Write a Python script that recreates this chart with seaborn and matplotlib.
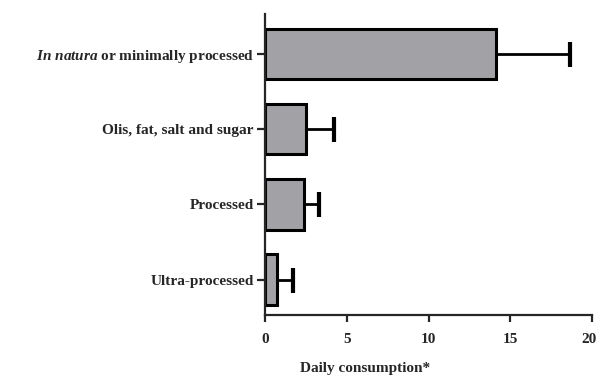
import matplotlib
matplotlib.use("Agg")
import matplotlib.pyplot as plt
import matplotlib.transforms as mtransforms
import seaborn as sns
import pandas as pd

# values
categories = [
    r"$\mathit{In\ natura}$ or minimally processed",
    "Olis, fat, salt and sugar",
    "Processed",
    "Ultra-processed",
]
means = [14.15, 2.53, 2.36, 0.71]
errors = [4.52, 1.71, 0.96, 0.98]
x_ticks = [0, 5, 10, 15, 20]

sns.set_style("ticks")
plt.rcParams["font.family"] = ["Liberation Serif", "DejaVu Serif"]
plt.rcParams["font.weight"] = "bold"
plt.rcParams["mathtext.fontset"] = "custom"
plt.rcParams["mathtext.it"] = "Liberation Serif:italic"
plt.rcParams["mathtext.rm"] = "Liberation Serif"

df = pd.DataFrame({"category": categories, "mean": means, "err": errors})

fig = plt.figure(figsize=(5.98, 3.77), dpi=100)
ax = fig.add_axes([265 / 598, 62 / 377, 327 / 598, 301 / 377])

sns.barplot(data=df, x="mean", y="category", orient="h", color="#a2a2a6",
            edgecolor="black", linewidth=2.2, width=0.67, errorbar=None,
            saturation=1, ax=ax)

# one-sided error bars: drop the lower caps
_, caps, _ = ax.errorbar(df["mean"], range(len(df)),
                         xerr=[[0] * len(df), df["err"]],
                         fmt="none", ecolor="black", elinewidth=2.0,
                         capsize=9, capthick=3, zorder=1)
caps[0].remove()

ax.set_xlim(0, 20)
ax.set_ylim(3.47, -0.53)
ax.set_xticks(x_ticks)
ax.set_xticklabels([str(t) for t in x_ticks], fontsize=11, fontweight="bold")
ax.tick_params(axis="x", length=5, width=1.6, pad=8)
ax.tick_params(axis="y", length=6, width=1.6, pad=2, labelsize=11)
for lbl in ax.get_yticklabels():
    lbl.set_fontweight("bold")

# keep the last x label inside the figure edge
last = ax.get_xticklabels()[-1]
last.set_transform(last.get_transform() +
                   mtransforms.ScaledTranslation(-3 / 100, 0, fig.dpi_scale_trans))

ax.set_ylabel("")
ax.set_xlabel("Daily consumption*", fontsize=11, fontweight="bold")
ax.xaxis.set_label_coords(0.306, -0.155)

sns.despine(ax=ax)
for side in ["left", "bottom"]:
    ax.spines[side].set_linewidth(1.6)

fig.savefig("out.png", dpi=100)
